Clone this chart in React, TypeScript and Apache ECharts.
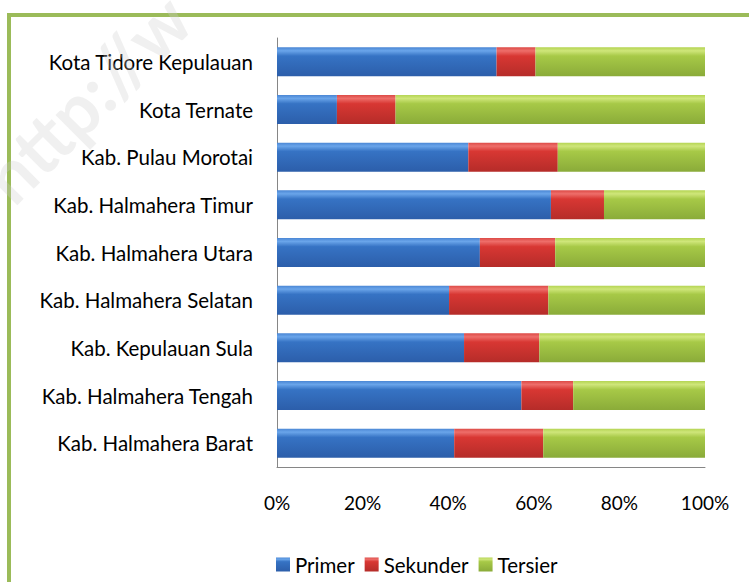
import React, { useEffect, useRef } from "react";
import * as echarts from "echarts";

const categories = [
  "Kota Tidore Kepulauan",
  "Kota Ternate",
  "Kab. Pulau Morotai",
  "Kab. Halmahera Timur",
  "Kab. Halmahera Utara",
  "Kab. Halmahera Selatan",
  "Kab. Kepulauan Sula",
  "Kab. Halmahera Tengah",
  "Kab. Halmahera Barat",
];
const primer = [51.3, 14.0, 44.7, 64.0, 47.4, 40.2, 43.7, 57.1, 41.4];
const sekunder = [9.1, 13.7, 20.9, 12.4, 17.6, 23.2, 17.6, 12.1, 20.8];
const tersier = [39.6, 72.3, 34.4, 23.6, 35.0, 36.6, 38.7, 30.8, 37.8];
const xTicks = [0, 20, 40, 60, 80, 100];

const FONT = "Lato";

function grad(edge: string, light: string, mid: string, bottom: string) {
  return new echarts.graphic.LinearGradient(0, 0, 0, 1, [
    { offset: 0, color: edge },
    { offset: 0.12, color: light },
    { offset: 0.3, color: mid },
    { offset: 1, color: bottom },
  ]);
}

export default function App() {
  const ref = useRef<HTMLDivElement>(null);
  useEffect(() => {
    if (!ref.current) return;
    const chart = echarts.init(ref.current, null, { renderer: "svg" });
    const mk = (name: string, data: number[], color: any) => ({
      name,
      type: "bar",
      stack: "total",
      data,
      barCategoryGap: "39%",
      itemStyle: { color },
      emphasis: { disabled: true },
    });
    chart.setOption({
      animation: false,
      textStyle: { fontFamily: FONT },
      graphic: [
        {
          type: "rect",
          shape: { x: 9, y: 15, width: 900, height: 900 },
          style: { fill: "none", stroke: "#9bbb59", lineWidth: 4 },
          z: 0,
        },
        {
          type: "text",
          x: 20,
          y: 214,
          rotation: Math.PI / 4,
          style: {
            text: "http://w",
            fontSize: 72,
            fontWeight: "bold",
            fontFamily: FONT,
            verticalAlign: "bottom",
            fill: "rgba(205,205,205,0.3)",
          },
          z: 100,
        },
      ],
      grid: { left: 277, right: 44, top: 38, bottom: 115 },
      legend: {
        bottom: 2,
        left: 271,
        itemWidth: 14,
        itemHeight: 14,
        itemGap: 10,
        icon: "rect",
        textStyle: { fontSize: 20.5, color: "#000", fontFamily: FONT },
        data: ["Primer", "Sekunder", "Tersier"],
      },
      xAxis: {
        type: "value",
        min: xTicks[0],
        max: xTicks[xTicks.length - 1],
        interval: 20,
        axisLine: { show: true, lineStyle: { color: "#868686", width: 1 } },
        axisTick: { show: false },
        splitLine: { show: false },
        axisLabel: {
          formatter: "{value}%",
          fontSize: 19,
          color: "#000",
          margin: 26,
          fontFamily: FONT,
        },
      },
      yAxis: {
        type: "category",
        data: categories,
        inverse: true,
        axisLine: { show: true, lineStyle: { color: "#868686", width: 1 } },
        axisTick: { show: false },
        axisLabel: { fontSize: 20.5, color: "#000", margin: 24, fontFamily: FONT },
      },
      series: [
        mk("Primer", primer, grad("#4a86d4", "#6aa5ea", "#3673c4", "#2c5eaa")),
        mk("Sekunder", sekunder, grad("#dc4a46", "#ee6e6a", "#d83733", "#b52c29")),
        mk("Tersier", tersier, grad("#b4d452", "#cfe67a", "#a7c947", "#8aab39")),
      ],
    });
    return () => chart.dispose();
  }, []);
  return (
    <div
      ref={ref}
      style={{ position: "fixed", left: 0, top: 0, width: 749, height: 582, background: "#fff" }}
    />
  );
}
